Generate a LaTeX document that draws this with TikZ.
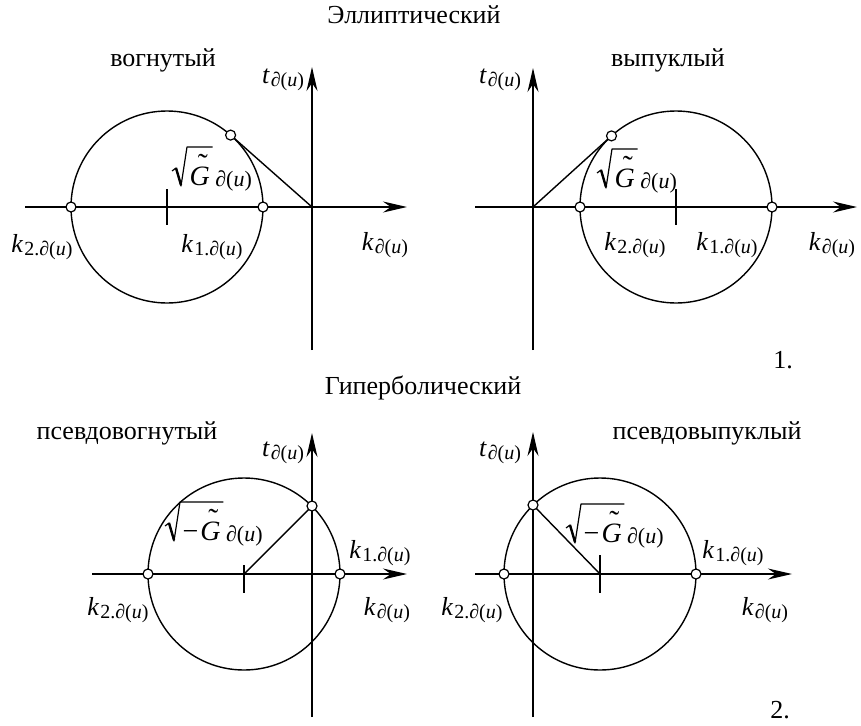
\documentclass[tikz,border=0pt]{standalone}
\usepackage{fontspec}
\setmainfont{Liberation Serif}
\usetikzlibrary{arrows.meta,calc}
\newcommand\dsub[1]{\raisebox{-0.3ex}{\fontsize{20pt}{22pt}\selectfont #1\textit{∂}(\textit{u})}}
\newcommand\gsub{\raisebox{-0.1ex}{\fontsize{22pt}{24pt}\selectfont\textit{∂}(\textit{u})}}
\newcommand\klab[1]{\textit{k}\kern1pt\dsub{#1}}
\newcommand\tlab{\textit{t}\kern1pt\dsub{}}
\newcommand\myradical[1]{%
  \draw[line width=1.2pt,line join=round]
    ($(#1.base west)+(-17,-14)$) -- ($(#1.base west)+(-13,-17)$)
    -- ($(#1.base west)+(-8,1)$) -- ($(#1.base west)+(-2,-38)$)
    -- ($(#1.base east)+(2,-38)$);
  \draw[line width=2.4pt]
    ($(#1.base west)+(-13,-17)$) -- ($(#1.base west)+(-8,0)$);}
\begin{document}
\begin{tikzpicture}[x=1pt,y=-1pt,line width=1.4pt,
  axis/.style={-{Stealth[length=24pt,width=11pt]}},
  dot/.style={circle,draw,fill=white,inner sep=0pt,minimum size=10pt,line width=1.2pt},
  lbl/.style={font=\fontsize{26pt}{30pt}\selectfont,inner sep=0pt},
  mlbl/.style={font=\fontsize{26pt}{30pt}\selectfont,inner sep=0pt},
  glbl/.style={font=\fontsize{28pt}{30pt}\selectfont,inner sep=0pt,anchor=base west},
  tild/.style={font=\fontsize{30pt}{32pt}\selectfont,inner sep=0pt,anchor=base}]
\useasboundingbox (0,0) rectangle (861,725);

% titles
\node[lbl] (t1) at (414,15) {Эллиптический};
\node[lbl] (t2) at (423,388) {Гиперболический};
\node[lbl] (n1) at (783,360) {1.};
\node[lbl] (n2) at (780,710) {2.};

% ---------- Panel 1 : вогнутый ----------
\coordinate (O1) at (312,207);
\coordinate (H1a) at (25,207); \coordinate (H1b) at (407,207);
\coordinate (V1a) at (312,350); \coordinate (V1b) at (312,67);
\coordinate (C1) at (167,207);
\coordinate (T1) at ($(C1)+(63.6,-71.9)$);
\draw[axis] (H1a) -- (H1b);
\draw[axis] (V1a) -- (V1b);
\draw (C1) circle[radius=96pt];
\draw ($(C1)+(0,-18)$) -- ($(C1)+(0,18)$);
\draw (O1) -- (T1);
\node[dot] (a1) at ($(C1)+(-96,0)$) {};
\node[dot] (b1) at ($(C1)+(96,0)$) {};
\node[dot] (c1) at (T1) {};
\node[lbl] (w1) at (163,60) {вогнутый};
\node[mlbl] (ty1) at (283,80) {\tlab};
\node[mlbl] (kx1) at (385,245) {\klab{}};
\node[mlbl] (k21) at (42,247) {\klab{2.}};
\node[mlbl] (k11) at (212,247) {\klab{1.}};
\node[glbl] (g1) at (189,185) {\textit{G}};
\node[tild] (g1t) at ($(g1.base)+(3,-11)$) {˜};
\node[glbl] (g1s) at ($(g1.base east)+(4,0)$) {\gsub};
\myradical{g1}

% ---------- Panel 2 : выпуклый ----------
\coordinate (O2) at (533,207);
\coordinate (H2a) at (475,207); \coordinate (H2b) at (857,207);
\coordinate (V2a) at (533,350); \coordinate (V2b) at (533,68);
\coordinate (C2) at (676,207);
\coordinate (T2) at ($(C2)+(-64.5,-71.1)$);
\draw[axis] (H2a) -- (H2b);
\draw[axis] (V2a) -- (V2b);
\draw (C2) circle[radius=96pt];
\draw ($(C2)+(0,-18)$) -- ($(C2)+(0,18)$);
\draw (O2) -- (T2);
\node[dot] (a2) at ($(C2)+(-96,0)$) {};
\node[dot] (b2) at ($(C2)+(96,0)$) {};
\node[dot] (c2) at (T2) {};
\node[lbl] (w2) at (668,60) {выпуклый};
\node[mlbl] (ty2) at (500,80) {\tlab};
\node[mlbl] (kx2) at (832,245) {\klab{}};
\node[mlbl] (k22) at (635,245) {\klab{2.}};
\node[mlbl] (k12) at (727,245) {\klab{1.}};
\node[glbl] (g2) at (614,187) {\textit{G}};
\node[tild] (g2t) at ($(g2.base)+(3,-11)$) {˜};
\node[glbl] (g2s) at ($(g2.base east)+(4,0)$) {\gsub};
\myradical{g2}

% ---------- Panel 3 : псевдовогнутый ----------
\coordinate (O3) at (312,574);
\coordinate (H3a) at (92,574); \coordinate (H3b) at (407,574);
\coordinate (V3a) at (312,717); \coordinate (V3b) at (312,433);
\coordinate (C3) at (244,574);
\coordinate (T3) at (312,506);
\draw[axis] (H3a) -- (H3b);
\draw[axis] (V3a) -- (V3b);
\draw (C3) circle[radius=96pt];
\draw ($(C3)+(0,-9)$) -- ($(C3)+(0,19)$);
\draw (C3) -- (T3);
\node[dot] (a3) at ($(C3)+(-96,0)$) {};
\node[dot] (b3) at ($(C3)+(96,0)$) {};
\node[dot] (c3) at (T3) {};
\node[lbl] (w3) at (127,433) {псевдовогнутый};
\node[mlbl] (ty3) at (283,453) {\tlab};
\node[mlbl] (kx3) at (387,610) {\klab{}};
\node[mlbl] (k23) at (118,610) {\klab{2.}};
\node[mlbl] (k13) at (380,553) {\klab{1.}};
\node[glbl] (g3) at (182,540) {−\kern2pt\textit{G}};
\node[tild] (g3t) at ($(g3.base east)+(-8,-11)$) {˜};
\node[glbl] (g3s) at ($(g3.base east)+(4,0)$) {\gsub};
\myradical{g3}

% ---------- Panel 4 : псевдовыпуклый ----------
\coordinate (O4) at (533,574);
\coordinate (H4a) at (475,574); \coordinate (H4b) at (792,574);
\coordinate (V4a) at (533,717); \coordinate (V4b) at (533,432);
\coordinate (C4) at (600,574);
\coordinate (T4) at (533,505);
\draw[axis] (H4a) -- (H4b);
\draw[axis] (V4a) -- (V4b);
\draw (C4) circle[radius=96pt];
\draw ($(C4)+(0,-19)$) -- ($(C4)+(0,19)$);
\draw (C4) -- (T4);
\node[dot] (a4) at ($(C4)+(-96,0)$) {};
\node[dot] (b4) at ($(C4)+(96,0)$) {};
\node[dot] (c4) at (T4) {};
\node[lbl] (w4) at (707,433) {псевдовыпуклый};
\node[mlbl] (ty4) at (500,453) {\tlab};
\node[mlbl] (kx4) at (765,610) {\klab{}};
\node[mlbl] (k24) at (472,610) {\klab{2.}};
\node[mlbl] (k14) at (733,553) {\klab{1.}};
\node[glbl] (g4) at (583,542) {−\kern2pt\textit{G}};
\node[tild] (g4t) at ($(g4.base east)+(-8,-11)$) {˜};
\node[glbl] (g4s) at ($(g4.base east)+(4,0)$) {\gsub};
\myradical{g4}
\end{tikzpicture}
\end{document}
